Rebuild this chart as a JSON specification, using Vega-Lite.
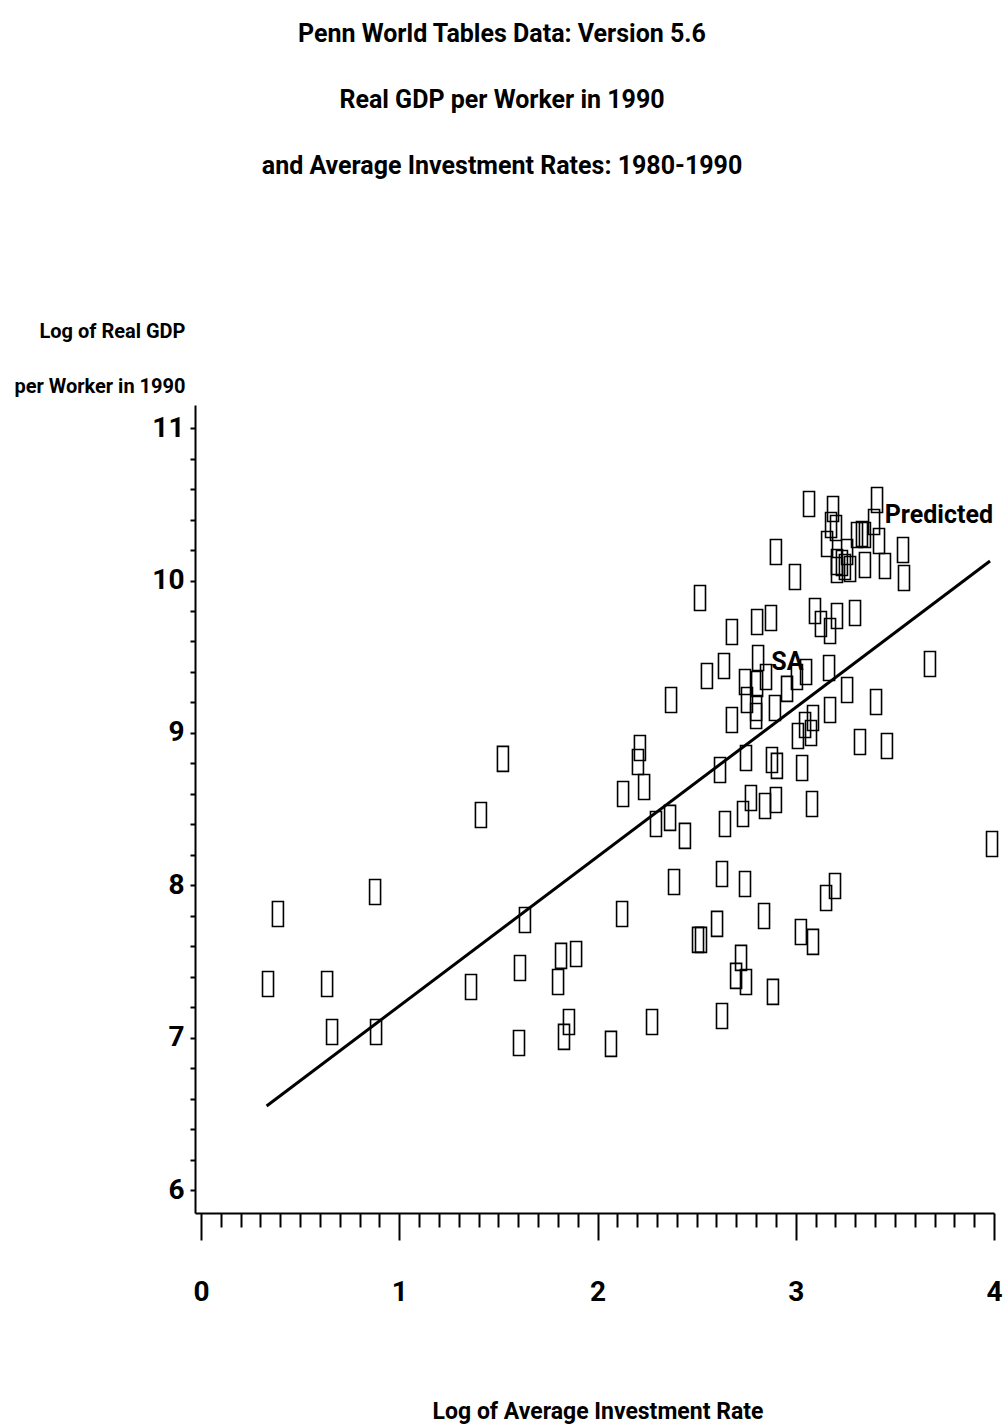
{
  "$schema": "https://vega.github.io/schema/vega-lite/v6.json",
  "autosize": {"type": "none"},
  "padding": {"left": 195, "top": 405, "right": 10, "bottom": 215},
  "width": 799,
  "height": 808,
  "background": "white",
  "config": {
    "view": {"stroke": null},
    "font": "Roboto, Liberation Sans, sans-serif"
  },
  "title": {
    "text": ["Penn World Tables Data: Version 5.6", "Real GDP per Worker in 1990", "and Average Investment Rates: 1980-1990"],
    "anchor": "middle",
    "frame": "group",
    "dx": -92.5,
    "offset": 142,
    "lineHeight": 66,
    "fontSize": 25,
    "fontWeight": "bold",
    "font": "Roboto, Liberation Sans, sans-serif",
    "color": "black"
  },
  "datasets": {
    "points": [
      {"x": 0.338, "y": 7.354}, {"x": 0.388, "y": 7.813}, {"x": 0.636, "y": 7.354}, {"x": 0.661, "y": 7.039},
      {"x": 0.878, "y": 7.957}, {"x": 0.883, "y": 7.039}, {"x": 1.362, "y": 7.334}, {"x": 1.412, "y": 8.462},
      {"x": 1.523, "y": 8.830}, {"x": 1.604, "y": 6.967}, {"x": 1.609, "y": 7.459}, {"x": 1.634, "y": 7.774},
      {"x": 1.801, "y": 7.367}, {"x": 1.816, "y": 7.538}, {"x": 1.831, "y": 7.007}, {"x": 1.856, "y": 7.105},
      {"x": 1.892, "y": 7.551}, {"x": 2.068, "y": 6.961}, {"x": 2.124, "y": 7.813}, {"x": 2.275, "y": 7.105},
      {"x": 2.129, "y": 8.600}, {"x": 2.214, "y": 8.902}, {"x": 2.204, "y": 8.810}, {"x": 2.235, "y": 8.646},
      {"x": 2.295, "y": 8.403}, {"x": 2.366, "y": 8.443}, {"x": 2.441, "y": 8.325}, {"x": 2.386, "y": 8.023},
      {"x": 2.507, "y": 7.643}, {"x": 2.522, "y": 7.643}, {"x": 2.603, "y": 7.748}, {"x": 2.628, "y": 8.075},
      {"x": 2.628, "y": 7.144}, {"x": 2.699, "y": 7.407}, {"x": 2.724, "y": 7.525}, {"x": 2.749, "y": 7.367},
      {"x": 2.744, "y": 8.010}, {"x": 2.840, "y": 7.800}, {"x": 2.885, "y": 7.302}, {"x": 3.026, "y": 7.695},
      {"x": 3.087, "y": 7.630}, {"x": 3.153, "y": 7.918}, {"x": 3.198, "y": 7.997}, {"x": 2.618, "y": 8.757},
      {"x": 2.643, "y": 8.403}, {"x": 2.734, "y": 8.469}, {"x": 2.774, "y": 8.574}, {"x": 2.845, "y": 8.521},
      {"x": 2.900, "y": 8.561}, {"x": 2.749, "y": 8.836}, {"x": 2.880, "y": 8.823}, {"x": 2.905, "y": 8.784},
      {"x": 3.032, "y": 8.770}, {"x": 3.082, "y": 8.534}, {"x": 3.011, "y": 8.980}, {"x": 3.324, "y": 8.941},
      {"x": 3.460, "y": 8.915}, {"x": 3.990, "y": 8.272}, {"x": 2.678, "y": 9.085}, {"x": 2.754, "y": 9.216},
      {"x": 2.800, "y": 9.164}, {"x": 2.800, "y": 9.111}, {"x": 2.895, "y": 9.164}, {"x": 2.956, "y": 9.289},
      {"x": 3.006, "y": 9.367}, {"x": 3.052, "y": 9.400}, {"x": 3.168, "y": 9.426}, {"x": 3.259, "y": 9.282},
      {"x": 3.173, "y": 9.151}, {"x": 3.087, "y": 9.098}, {"x": 3.047, "y": 9.052}, {"x": 3.077, "y": 9.000},
      {"x": 3.405, "y": 9.203}, {"x": 3.677, "y": 9.452}, {"x": 2.552, "y": 9.374}, {"x": 2.638, "y": 9.439},
      {"x": 2.744, "y": 9.334}, {"x": 2.805, "y": 9.321}, {"x": 2.850, "y": 9.367}, {"x": 2.810, "y": 9.492},
      {"x": 2.371, "y": 9.216}, {"x": 2.678, "y": 9.662}, {"x": 2.805, "y": 9.728}, {"x": 2.875, "y": 9.754},
      {"x": 3.097, "y": 9.800}, {"x": 3.127, "y": 9.715}, {"x": 3.208, "y": 9.767}, {"x": 3.173, "y": 9.669},
      {"x": 3.299, "y": 9.787}, {"x": 2.517, "y": 9.885}, {"x": 2.900, "y": 10.187}, {"x": 2.996, "y": 10.023},
      {"x": 3.067, "y": 10.502}, {"x": 3.410, "y": 10.528}, {"x": 3.188, "y": 10.469}, {"x": 3.178, "y": 10.364},
      {"x": 3.203, "y": 10.344}, {"x": 3.158, "y": 10.239}, {"x": 3.395, "y": 10.384}, {"x": 3.309, "y": 10.298},
      {"x": 3.334, "y": 10.305}, {"x": 3.349, "y": 10.298}, {"x": 3.420, "y": 10.259}, {"x": 3.541, "y": 10.200},
      {"x": 3.259, "y": 10.187}, {"x": 3.208, "y": 10.121}, {"x": 3.233, "y": 10.115}, {"x": 3.248, "y": 10.089},
      {"x": 3.274, "y": 10.075}, {"x": 3.349, "y": 10.102}, {"x": 3.450, "y": 10.095}, {"x": 3.546, "y": 10.016},
      {"x": 3.208, "y": 10.069}
    ],
    "fit": [
      {"x": 0.331, "y": 6.554},
      {"x": 3.98, "y": 10.128}
    ],
    "labels": [
      {"x": 3.995, "y": 10.43, "label": "Predicted"},
      {"x": 2.958, "y": 9.466, "label": "SA"}
    ]
  },
  "layer": [
    {
      "data": {"name": "points"},
      "mark": {
        "type": "point",
        "shape": "M-0.44,-1H0.44V1H-0.44Z",
        "size": 625,
        "filled": false,
        "stroke": "black",
        "strokeWidth": 1.6,
        "opacity": 1
      },
      "encoding": {
        "x": {
          "field": "x",
          "type": "quantitative",
          "scale": {"domain": [-0.0303, 4], "nice": false, "zero": false},
          "axis": {
            "values": [0,0.1,0.2,0.3,0.4,0.5,0.6,0.7,0.8,0.9,1,1.1,1.2,1.3,1.4,1.5,1.6,1.7,1.8,1.9,2,2.1,2.2,2.3,2.4,2.5,2.6,2.7,2.8,2.9,3,3.1,3.2,3.3,3.4,3.5,3.6,3.7,3.8,3.9,4],
            "tickCount": 500,
            "labelExpr": "datum.value % 1 === 0 ? '' + datum.value : ''",
            "labelFlush": false,
            "labelOverlap": false,
            "labelBound": false,
            "grid": false,
            "domainColor": "black",
            "domainWidth": 2,
            "tickColor": "black",
            "tickWidth": 2,
            "tickSize": {"condition": {"test": "datum.value % 1 === 0", "value": 27}, "value": 14},
            "labelPadding": 38,
            "labelFontSize": 28,
            "labelFontWeight": "bold",
            "labelColor": "black",
            "labelFont": "Roboto, Liberation Sans, sans-serif",
            "title": "Log of Average Investment Rate",
            "titleX": 402.5,
            "titleY": 205,
            "titleAlign": "center",
            "titleBaseline": "alphabetic",
            "titleFontSize": 23,
            "titleFontWeight": "bold",
            "titleColor": "black",
            "titleFont": "Roboto, Liberation Sans, sans-serif"
          }
        },
        "y": {
          "field": "y",
          "type": "quantitative",
          "scale": {"domain": [5.852, 11.151], "nice": false, "zero": false},
          "axis": {
            "values": [6,6.2,6.4,6.6,6.8,7,7.2,7.4,7.6,7.8,8,8.2,8.4,8.6,8.8,9,9.2,9.4,9.6,9.8,10,10.2,10.4,10.6,10.8,11],
            "tickCount": 500,
            "labelExpr": "datum.value % 1 === 0 ? '' + datum.value : ''",
            "labelFlush": false,
            "labelOverlap": false,
            "labelBound": false,
            "grid": false,
            "domainColor": "black",
            "domainWidth": 2,
            "tickColor": "black",
            "tickWidth": 2,
            "tickSize": 5,
            "labelPadding": 6,
            "labelFontSize": 28,
            "labelFontWeight": "bold",
            "labelColor": "black",
            "labelFont": "Roboto, Liberation Sans, sans-serif",
            "title": ["Log of Real GDP", "per Worker in 1990"],
            "titleAngle": 0,
            "titleAlign": "right",
            "titleBaseline": "alphabetic",
            "titleX": -10,
            "titleY": -68,
            "titleLineHeight": 55,
            "titleFontSize": 20,
            "titleFontWeight": "bold",
            "titleColor": "black",
            "titleFont": "Roboto, Liberation Sans, sans-serif"
          }
        }
      }
    },
    {
      "data": {"name": "fit"},
      "mark": {"type": "line", "color": "black", "strokeWidth": 3},
      "encoding": {
        "x": {"field": "x", "type": "quantitative"},
        "y": {"field": "y", "type": "quantitative"}
      }
    },
    {
      "data": {"name": "labels"},
      "transform": [{"filter": "datum.label === 'Predicted'"}],
      "mark": {
        "type": "text",
        "align": "right",
        "baseline": "middle",
        "fontSize": 25,
        "fontWeight": "bold",
        "color": "black",
        "font": "Roboto, Liberation Sans, sans-serif"
      },
      "encoding": {
        "x": {"field": "x", "type": "quantitative"},
        "y": {"field": "y", "type": "quantitative"},
        "text": {"field": "label"}
      }
    },
    {
      "data": {"name": "labels"},
      "transform": [{"filter": "datum.label === 'SA'"}],
      "mark": {
        "type": "text",
        "align": "center",
        "baseline": "middle",
        "fontSize": 25,
        "fontWeight": "bold",
        "color": "black",
        "font": "Roboto, Liberation Sans, sans-serif"
      },
      "encoding": {
        "x": {"field": "x", "type": "quantitative"},
        "y": {"field": "y", "type": "quantitative"},
        "text": {"field": "label"}
      }
    }
  ]
}
